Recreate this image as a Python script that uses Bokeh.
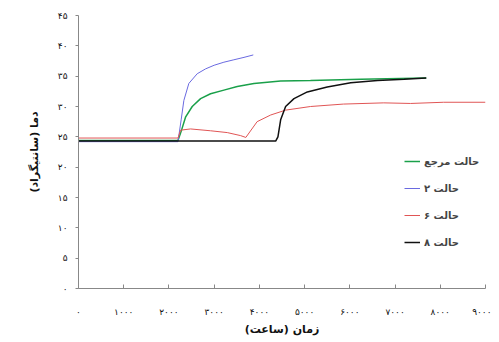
from bokeh.plotting import figure
from bokeh.models import FixedTicker, Legend, LegendItem, Range1d
from bokeh.embed import file_html
from bokeh.resources import INLINE

# Data (hours, temperature °C)
ref_x = [0, 2200, 2270, 2370, 2515, 2700, 2920, 3215, 3510, 3880, 4470, 5130, 6240, 7690]
ref_y = [24.4, 24.4, 25.9, 28.3, 30.0, 31.3, 32.1, 32.7, 33.3, 33.8, 34.2, 34.3, 34.5, 34.7]

c2_x = [0, 2200, 2270, 2330, 2440, 2625, 2810, 3000, 3215, 3435, 3660, 3865]
c2_y = [24.2, 24.2, 27.8, 31.0, 33.8, 35.4, 36.2, 36.8, 37.3, 37.7, 38.1, 38.5]

c6_x = [0, 2200, 2257, 2478, 2920, 3290, 3585, 3700, 3950, 4250, 4580, 5130, 5860, 6750, 7345, 8075, 9000]
c6_y = [24.8, 24.8, 26.1, 26.3, 26.0, 25.7, 25.2, 24.9, 27.5, 28.6, 29.4, 30.0, 30.4, 30.6, 30.5, 30.7, 30.7]

c8_x = [0, 4360, 4410, 4470, 4580, 4765, 5060, 5500, 6020, 6610, 7200, 7690]
c8_y = [24.3, 24.3, 25.0, 27.8, 30.0, 31.3, 32.4, 33.2, 33.9, 34.3, 34.5, 34.7]

series_names = ["حالت مرجع", "حالت ۲", "حالت ۶", "حالت ۸"]
x_ticks = [0, 1000, 2000, 3000, 4000, 5000, 6000, 7000, 8000, 9000]
x_tick_labels = ["۰", "۱۰۰۰", "۲۰۰۰", "۳۰۰۰", "۴۰۰۰", "۵۰۰۰", "۶۰۰۰", "۷۰۰۰", "۸۰۰۰", "۹۰۰۰"]
y_ticks = [0, 5, 10, 15, 20, 25, 30, 35, 40, 45]
y_tick_labels = ["۰", "۵", "۱۰", "۱۵", "۲۰", "۲۵", "۳۰", "۳۵", "۴۰", "۴۵"]

FONT = "DejaVu Sans"

p = figure(width=491, height=338, output_backend="svg", toolbar_location=None,
           x_range=Range1d(0, 9000), y_range=Range1d(0, 45),
           min_border_left=78, min_border_right=6, min_border_top=15, min_border_bottom=48)
p.outline_line_color = None
p.grid.visible = False
p.background_fill_color = "white"

r_ref = p.line(ref_x, ref_y, line_color="#1aa04a", line_width=1.5)
r_c2 = p.line(c2_x, c2_y, line_color="#6a6ae0", line_width=1)
r_c6 = p.line(c6_x, c6_y, line_color="#e05555", line_width=1)
r_c8 = p.line(c8_x, c8_y, line_color="#111111", line_width=1.5)

for ax in (p.xaxis[0], p.yaxis[0]):
    ax.axis_line_color = "#888888"
    ax.major_tick_line_color = "#888888"
    ax.minor_tick_line_color = None
    ax.major_label_text_font = FONT
    ax.major_label_text_font_size = "9px"
    ax.major_label_text_color = "#111111"
    ax.axis_label_text_font = FONT
    ax.axis_label_text_font_size = "11px"
    ax.axis_label_text_font_style = "bold"
    ax.axis_label_text_color = "#111111"

p.xaxis.ticker = FixedTicker(ticks=x_ticks)
p.xaxis.major_label_overrides = {t: l for t, l in zip(x_ticks, x_tick_labels)}
p.xaxis.major_tick_in = 4
p.xaxis.major_tick_out = 0
p.xaxis.major_label_standoff = 18
p.xaxis.axis_label = "زمان (ساعت)"
p.xaxis.axis_label_standoff = 3

p.yaxis.ticker = FixedTicker(ticks=y_ticks)
p.yaxis.major_label_overrides = {t: l for t, l in zip(y_ticks, y_tick_labels)}
p.yaxis.major_tick_in = 0
p.yaxis.major_tick_out = 3
p.yaxis.major_label_standoff = 8
p.yaxis.axis_label = "دما (سانتیگراد)"
p.yaxis.axis_label_standoff = 14

legend = Legend(items=[LegendItem(label=series_names[0], renderers=[r_ref]),
                       LegendItem(label=series_names[1], renderers=[r_c2]),
                       LegendItem(label=series_names[2], renderers=[r_c6]),
                       LegendItem(label=series_names[3], renderers=[r_c8])],
                location=(326, 38), border_line_color=None, background_fill_alpha=0,
                label_text_font=FONT, label_text_font_size="10px", label_text_font_style="bold",
                glyph_width=16, glyph_height=16, spacing=11, label_standoff=4, padding=2)
p.add_layout(legend)

open("out.html", "w").write(file_html(p, INLINE))
